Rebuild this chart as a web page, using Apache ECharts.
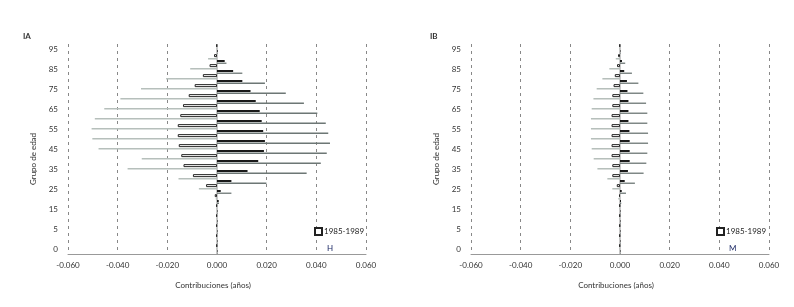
<!DOCTYPE html>
<html>
<head>
<meta charset="utf-8">
<script src="https://cdn.jsdelivr.net/npm/echarts@6/dist/echarts.min.js"></script>
<style>
  html, body { margin: 0; padding: 0; background: #fff; }
  #chart { width: 794px; height: 307px; }
</style>
</head>
<body>
<div id="chart"></div>
<script>
  // grupos de edad: 0, 1-4, 5-9 ... 95+
  const ageGroups = ['0', '1', '5', '10', '15', '20', '25', '30', '35', '40', '45',
    '50', '55', '60', '65', '70', '75', '80', '85', '90', '95']
  const xTicks = [-0.06, -0.04, -0.02, 0, 0.02, 0.04, 0.06]

  // IA - hombres (orden: edad 0 ... 95)
  const menWhite = [-0.0002, -0.0003, -0.0003, -0.0003, -0.0003, -0.0009, -0.0044, -0.0097, -0.0135, -0.0144,
    -0.0154, -0.0158, -0.0158, -0.0148, -0.0137, -0.0114, -0.0090, -0.0057, -0.0030, -0.0012, -0.0002]
  const menLight = [-0.0002, -0.0002, -0.0002, -0.0002, -0.0002, -0.0005, -0.0073, -0.0155, -0.0360, -0.0303,
    -0.0477, -0.0502, -0.0505, -0.0492, -0.0454, -0.0389, -0.0306, -0.0205, -0.0108, -0.0036, -0.0002]
  const menBlack = [0.0002, 0.0002, 0.0002, 0.0002, 0.0002, 0.0007, 0.0015, 0.0058, 0.0123, 0.0166,
    0.0189, 0.0193, 0.0186, 0.0180, 0.0172, 0.0156, 0.0135, 0.0102, 0.0065, 0.0031, 0.0003]
  const menDark = [0.0002, 0.0002, 0.0002, 0.0002, 0.0002, 0.0008, 0.0058, 0.0199, 0.0361, 0.0418,
    0.0442, 0.0455, 0.0448, 0.0438, 0.0404, 0.0350, 0.0277, 0.0193, 0.0102, 0.0038, 0.0002]

  // IB - mujeres
  const womenWhite = [-0.0002, -0.0002, -0.0002, -0.0002, -0.0002, -0.0004, -0.0013, -0.0031, -0.0031, -0.0034,
    -0.0034, -0.0034, -0.0034, -0.0034, -0.0031, -0.0031, -0.0026, -0.0021, -0.0012, -0.0008, -0.0002]
  const womenLight = [-0.0002, -0.0002, -0.0002, -0.0002, -0.0002, -0.0007, -0.0031, -0.0051, -0.0091, -0.0106,
    -0.0114, -0.0117, -0.0117, -0.0117, -0.0114, -0.0107, -0.0094, -0.0071, -0.0043, -0.0017, -0.0002]
  const womenBlack = [0.0002, 0.0002, 0.0002, 0.0002, 0.0002, 0.0004, 0.0007, 0.0019, 0.0032, 0.0039,
    0.0039, 0.0039, 0.0038, 0.0034, 0.0034, 0.0034, 0.0030, 0.0028, 0.0017, 0.0008, 0.0002]
  const womenDark = [0.0002, 0.0002, 0.0002, 0.0002, 0.0002, 0.0005, 0.0024, 0.0060, 0.0095, 0.0106,
    0.0110, 0.0113, 0.0113, 0.0110, 0.0110, 0.0105, 0.0094, 0.0074, 0.0048, 0.0021, 0.0002]

  const FONT = 'Lato'
  const chart = echarts.init(document.getElementById('chart'))

  function xAxisFor(idx) {
    return {
      type: 'value',
      gridIndex: idx,
      min: xTicks[0],
      max: xTicks[xTicks.length - 1],
      interval: 0.02,
      name: 'Contribuciones (años)',
      nameLocation: 'middle',
      nameGap: 27,
      nameTextStyle: { fontFamily: FONT, fontSize: 8, color: '#333', padding: [0, 8, 0, 0] },
      axisLine: { show: true, onZero: false, lineStyle: { color: '#999', width: 1 } },
      axisTick: { show: false },
      axisLabel: {
        fontFamily: FONT, fontSize: 8, color: '#333', margin: 7,
        formatter: (v) => v.toFixed(3),
      },
      splitLine: { show: true, lineStyle: { color: '#888', type: [3, 4], width: 1 } },
    }
  }

  function yAxisFor(idx) {
    return {
      type: 'category',
      gridIndex: idx,
      data: ageGroups,
      name: 'Grupo de edad',
      nameLocation: 'middle',
      nameGap: 31,
      nameRotate: 90,
      nameTextStyle: { fontFamily: FONT, fontSize: 8, color: '#333', padding: [0, 20, 0, 0] },
      axisLine: { show: false },
      axisTick: { show: false },
      axisLabel: { interval: 1, fontFamily: FONT, fontSize: 8, color: '#333', margin: 10 },
      splitLine: { show: false },
    }
  }

  function barSeries(idx, name, data, style, width, zeroLine) {
    const s = {
      name: name,
      type: 'bar',
      xAxisIndex: idx,
      yAxisIndex: idx,
      data: data,
      barWidth: width,
      barGap: '30%',
      itemStyle: style,
      silent: true,
    }
    if (zeroLine) {
      // línea vertical gris en 0, debajo de las barras
      s.markLine = {
        silent: true,
        symbol: 'none',
        label: { show: false },
        lineStyle: { color: '#c8c8c8', width: 2, type: 'solid' },
        data: [{ xAxis: 0 }],
        z: 1,
      }
    }
    return s
  }

  const whiteStyle = { color: '#fff', borderColor: '#222', borderWidth: 1 }
  const lightStyle = { color: '#b6bfbb' }
  const blackStyle = { color: '#1a1a1a' }
  const darkStyle = { color: '#6d7775' }

  const option = {
    animation: false,
    textStyle: { fontFamily: FONT },
    title: [
      { text: 'IA', left: 18, top: 27, textStyle: { fontFamily: FONT, fontSize: 8, fontWeight: 'bold', color: '#333' } },
      { text: 'IB', left: 425, top: 27, textStyle: { fontFamily: FONT, fontSize: 8, fontWeight: 'bold', color: '#333' } },
      { text: 'H', left: 322, top: 239, textStyle: { fontFamily: FONT, fontSize: 8, fontWeight: 'normal', color: '#1d2a66' } },
      { text: 'M', left: 724, top: 239, textStyle: { fontFamily: FONT, fontSize: 8, fontWeight: 'normal', color: '#1d2a66' } },
    ],
    legend: [
      {
        data: ['1985-1989'], left: 314, top: 227, itemWidth: 7, itemHeight: 7, itemGap: 2,
        icon: 'rect', padding: 0,
        textStyle: { fontFamily: FONT, fontSize: 8, color: '#222', padding: [0, 0, 0, -3] },
      },
      {
        data: ['1985-1989'], left: 716, top: 227, itemWidth: 7, itemHeight: 7, itemGap: 2,
        icon: 'rect', padding: 0,
        textStyle: { fontFamily: FONT, fontSize: 8, color: '#222', padding: [0, 0, 0, -3] },
      },
    ],
    grid: [
      { left: 68, top: 44, width: 298, height: 210 },
      { left: 471, top: 44, width: 298, height: 210 },
    ],
    xAxis: [xAxisFor(0), xAxisFor(1)],
    yAxis: [yAxisFor(0), yAxisFor(1)],
    series: [
      barSeries(0, '1985-1989', menWhite, whiteStyle, 3, true),
      barSeries(0, 'Serie 2', menLight, lightStyle, 1.5),
      barSeries(0, 'Serie 3', menBlack, blackStyle, 2),
      barSeries(0, 'Serie 4', menDark, darkStyle, 1.3),
      barSeries(1, '1985-1989', womenWhite, whiteStyle, 3, true),
      barSeries(1, 'Serie 2', womenLight, lightStyle, 1.5),
      barSeries(1, 'Serie 3', womenBlack, blackStyle, 2),
      barSeries(1, 'Serie 4', womenDark, darkStyle, 1.3),
    ],
  }

  chart.setOption(option)
</script>
</body>
</html>
